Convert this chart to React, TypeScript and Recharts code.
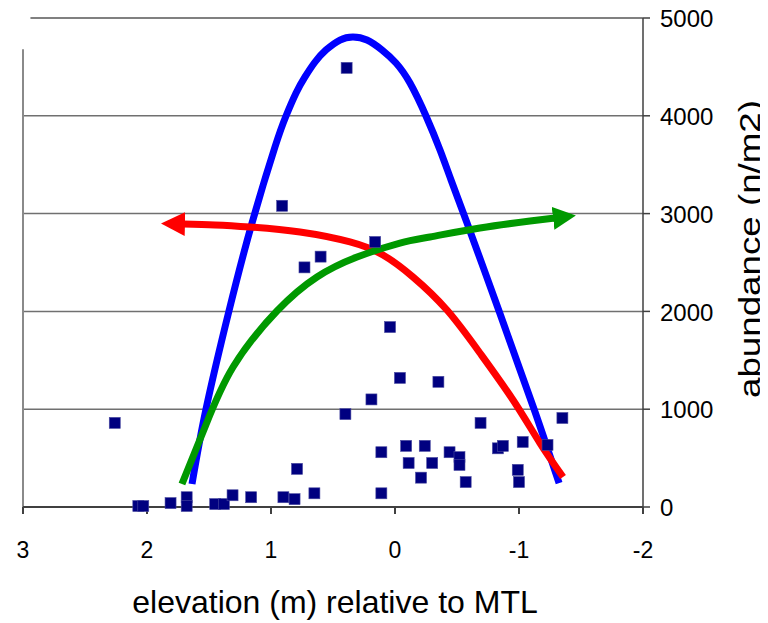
import {
  ComposedChart, Scatter, Line, XAxis, YAxis, ReferenceLine
} from 'recharts'

const xTicks = [3, 2, 1, 0, -1, -2]
const yTicks = [0, 1000, 2000, 3000, 4000, 5000]

// field samples: elevation (m) vs abundance (n/m2)
const elevation = [
  2.26, 2.07, 2.03, 1.81, 1.68, 1.68, 1.45, 1.38, 1.31, 1.16, 0.90, 0.81, 0.79, 0.65,
  0.91, 0.73, 0.60, 0.39, 0.40, 0.19, 0.16, 0.11, 0.11, 0.04, -0.04, -0.35, -0.09,
  -0.24, -0.11, -0.30, -0.21, -0.44, -0.52, -0.52, -0.57, -0.69, -0.83, -0.87, -1.03,
  -0.99, -1.00, -1.23, -1.35
]
const abundance = [
  860, 10, 10, 40, 100, 10, 30, 30, 120, 100, 100, 80, 390, 140,
  3080, 2450, 2560, 4490, 950, 1100, 2710, 560, 140, 1840, 1320, 1280, 625,
  625, 450, 450, 300, 560, 510, 430, 255, 860, 600, 625, 665,
  380, 255, 635, 910
]

// hand-drawn trend curves
const blueX = [1.637, 1.524, 1.339, 1.153, 0.968, 0.879, 0.798, 0.726, 0.645, 0.556, 0.444, 0.339, 0.226, 0.105, -0.008, -0.121, -0.250, -0.363, -0.452, -0.581, -0.839, -1.000, -1.121, -1.226, -1.323]
const blueY = [235, 1002, 2004, 2904, 3681, 3998, 4233, 4397, 4550, 4673, 4775, 4806, 4775, 4673, 4540, 4335, 3998, 3650, 3344, 2904, 2004, 1431, 1002, 613, 245]

const redX = [1.710, 1.452, 1.169, 0.766, 0.363, 0.097, -0.145, -0.419, -0.685, -0.952, -1.169, -1.355]
const redY = [2894, 2884, 2863, 2812, 2710, 2577, 2352, 2014, 1575, 1094, 654, 307]

const greenX = [1.718, 1.532, 1.306, 0.952, 0.629, 0.306, -0.040, -0.282, -0.685, -1.089, -1.290]
const greenY = [235, 818, 1431, 2004, 2352, 2556, 2699, 2761, 2853, 2924, 2955]

const toPoints = (xs: number[], ys: number[]) => xs.map((x, i) => ({ x, y: ys[i] }))

const samples = toPoints(elevation, abundance)
const blue = toPoints(blueX, blueY)
const red = toPoints(redX, redY)
const green = toPoints(greenX, greenY)

const FONT = '"Liberation Sans", Arial, sans-serif'

const Square = (props: any) => {
  const { cx, cy } = props
  if (cx == null || cy == null) return null
  return <rect x={cx - 5.5} y={cy - 5.5} width={11} height={11} fill="#000080" stroke="#4a4aa0" strokeWidth={0.6} />
}

const XTick = ({ x, y, payload }: any) => (
  <text x={x} y={y} dy="0.71em" textAnchor="middle" fontSize={23} fontFamily={FONT} fill="#000">
    {payload.value}
  </text>
)

const YTick = ({ x, y, payload }: any) => (
  <text x={x} y={y} dy="0.38em" textAnchor="start" fontSize={24} fontFamily={FONT} fill="#000">
    {payload.value}
  </text>
)

const XTitle = ({ viewBox }: any) => {
  const vb = viewBox || { x: 23, y: 507, width: 620 }
  return (
    <text x={vb.x + vb.width / 2 + 2} y={vb.y + 106} textAnchor="middle" fontSize={32} fontFamily={FONT} fill="#000">
      elevation (m) relative to MTL
    </text>
  )
}

const YTitle = ({ viewBox }: any) => {
  const vb = viewBox || { x: 643, y: 18, height: 489 }
  const cx = vb.x + 106
  const cy = 249
  return (
    <text
      x={cx} y={cy} transform={`rotate(-90 ${cx} ${cy})`}
      textAnchor="middle" dominantBaseline="central"
      fontSize={30} fontFamily={FONT} fill="#000"
      textLength={298} lengthAdjust="spacingAndGlyphs"
    >
      abundance (n/m2)
    </text>
  )
}

export default function App() {
  return (
    <div style={{ position: 'relative', width: 768, height: 623, margin: '-8px 0 0 -8px' }}>
      <svg width={0} height={0} style={{ position: 'absolute' }}>
        <defs>
          <marker id="arrowRed" viewBox="0 0 24 24" markerUnits="userSpaceOnUse" markerWidth={24} markerHeight={24}
            refX={2} refY={12} orient="auto-start-reverse">
            <path d="M0,0 L24,12 L0,24 Z" fill="#FF0000" />
          </marker>
          <marker id="arrowGreen" viewBox="0 0 24 24" markerUnits="userSpaceOnUse" markerWidth={23} markerHeight={23}
            refX={2} refY={12} orient="auto">
            <path d="M0,0 L24,12 L0,24 Z" fill="#009900" />
          </marker>
        </defs>
      </svg>
      <ComposedChart width={768} height={623} margin={{ top: 18, right: 8, bottom: 10, left: 23 }}>
        <XAxis
          type="number" dataKey="x" domain={[-2, 3]} reversed allowDataOverflow
          ticks={xTicks} interval={0} height={106}
          tick={<XTick />} tickSize={7} tickMargin={28}
          axisLine={{ stroke: '#404040', strokeWidth: 2 }}
          tickLine={{ stroke: '#404040', strokeWidth: 2 }}
          label={<XTitle />}
        />
        <YAxis
          orientation="right" type="number" domain={[0, 5000]} ticks={yTicks} interval={0}
          width={117} tick={<YTick />} tickSize={7} tickMargin={10}
          axisLine={{ stroke: '#404040', strokeWidth: 1.5 }}
          tickLine={{ stroke: '#404040', strokeWidth: 1.5 }}
          label={<YTitle />}
        />
        {yTicks.slice(1, 5).map(v => (
          <ReferenceLine key={v} y={v} stroke="#707070" strokeWidth={1.5} />
        ))}
        <ReferenceLine segment={[{ x: 2.94, y: 5000 }, { x: -2, y: 5000 }]} stroke="#808080" strokeWidth={2} />
        <ReferenceLine segment={[{ x: 3, y: 0 }, { x: 3, y: 4680 }]} stroke="#8a8a8a" strokeWidth={2} />
        <Scatter data={samples} dataKey="y" shape={<Square />} isAnimationActive={false} />
        <Line data={blue} dataKey="y" type="natural" stroke="#0000FF" strokeWidth={7} dot={false} activeDot={false} isAnimationActive={false} />
        <Line data={red} dataKey="y" type="natural" stroke="#FF0000" strokeWidth={7} dot={false} activeDot={false}
          markerStart="url(#arrowRed)" isAnimationActive={false} />
        <Line data={green} dataKey="y" type="natural" stroke="#009900" strokeWidth={7} dot={false} activeDot={false}
          markerEnd="url(#arrowGreen)" isAnimationActive={false} />
      </ComposedChart>
    </div>
  )
}
